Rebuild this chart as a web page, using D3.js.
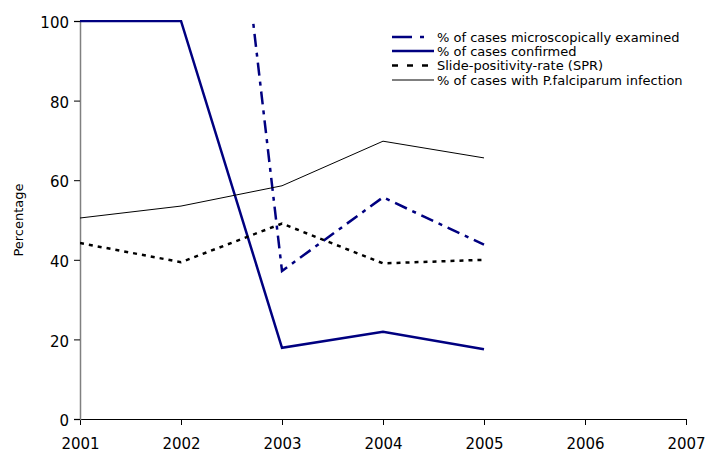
<!DOCTYPE html>
<html><head><meta charset="utf-8">
<script src="https://cdn.jsdelivr.net/npm/d3@7"></script>
<style>body{margin:0;background:#fff}svg{display:block}text{font-family:"DejaVu Sans",sans-serif}</style>
</head><body>
<script>
const years = [2001, 2002, 2003, 2004, 2005];
const xTicks = [2001, 2002, 2003, 2004, 2005, 2006, 2007];
const yTicks = [0, 20, 40, 60, 80, 100];
const examined = [null, 256, 37.2, 55.7, 43.8];
const confirmed = [100, 100, 17.9, 21.9, 17.5];
const spr = [44.2, 39.4, 49.1, 39.1, 40.0];
const falciparum = [50.5, 53.5, 58.6, 69.8, 65.6];
const seriesNames = ["% of cases microscopically examined", "% of cases confirmed", "Slide-positivity-rate (SPR)", "% of cases with P.falciparum infection"];

const W = 707, H = 453;
const svg = d3.select("body").append("svg").attr("width", W).attr("height", H);
const x = d3.scaleLinear().domain([2001, 2007]).range([80, 686]);
const y = d3.scaleLinear().domain([0, 100]).range([419, 21]);

svg.append("defs").append("clipPath").attr("id", "clip")
  .append("rect").attr("x", 80).attr("y", 20).attr("width", 606).attr("height", 400);

const styles = [
  {color: "#000080", width: 2.5, dash: "13,6,4,6"},
  {color: "#000080", width: 2.5, dash: null},
  {color: "#000000", width: 2.5, dash: "4,5"},
  {color: "#000000", width: 1, dash: null}
];
const data = [examined, confirmed, spr, falciparum];

// axes
const yAxis = svg.append("g").attr("transform", "translate(80,0)")
  .call(d3.axisLeft(y).tickValues(yTicks).tickSize(6).tickPadding(5));
yAxis.select(".domain").attr("stroke", "#808080").attr("stroke-width", 1.5);
yAxis.selectAll(".tick line").attr("stroke", "#000");
yAxis.selectAll("text").attr("font-size", 15).attr("fill", "#000").attr("dy", "0.45em");

const xAxis = svg.append("g").attr("transform", "translate(0,419)")
  .call(d3.axisBottom(x).tickValues(xTicks).tickFormat(d3.format("d")).tickSize(6).tickPadding(13));
xAxis.select(".domain").attr("stroke", "#000").attr("stroke-width", 1);
xAxis.selectAll("text").attr("font-size", 15).attr("fill", "#000");
yAxis.raise();

svg.append("text").attr("transform", "translate(23,220) rotate(-90)")
  .attr("text-anchor", "middle").attr("font-size", 13).text("Percentage");

const line = d3.line().defined(d => d.v !== null).x(d => x(d.yr)).y(d => y(d.v));
const plot = svg.append("g").attr("clip-path", "url(#clip)");
data.forEach((arr, i) => {
  const pts = years.map((yr, j) => ({yr, v: arr[j]}));
  plot.append("path").datum(pts).attr("d", line)
    .attr("fill", "none").attr("stroke", styles[i].color)
    .attr("stroke-width", styles[i].width)
    .attr("stroke-dasharray", styles[i].dash);
});

// legend
const lg = svg.append("g");
const rowY = [37, 51, 65.5, 80];
seriesNames.forEach((name, i) => {
  lg.append("line").attr("x1", 392).attr("x2", 434).attr("y1", rowY[i]).attr("y2", rowY[i])
    .attr("stroke", styles[i].color).attr("stroke-width", styles[i].width)
    .attr("stroke-dasharray", i === 0 ? "20,8,4,20" : (i === 2 ? "6,9" : null));
  lg.append("text").attr("x", 437).attr("y", rowY[i]).attr("dy", "0.35em")
    .attr("font-size", 13).text(name);
});
</script>
</body></html>
